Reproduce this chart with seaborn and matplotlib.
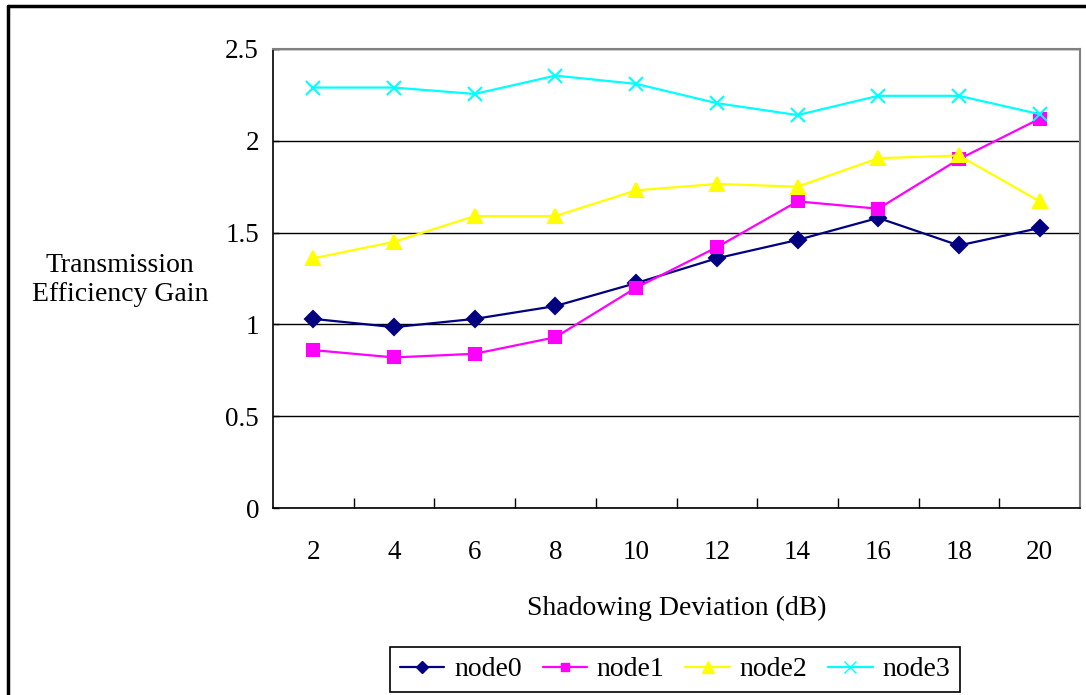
import pandas as pd
import seaborn as sns
import matplotlib.pyplot as plt
from matplotlib.lines import Line2D

# Values
deviation = [2, 4, 6, 8, 10, 12, 14, 16, 18, 20]
node0 = [1.03, 0.985, 1.03, 1.10, 1.225, 1.36, 1.46, 1.58, 1.43, 1.525]
node1 = [0.86, 0.82, 0.84, 0.93, 1.20, 1.42, 1.67, 1.63, 1.90, 2.12]
node2 = [1.36, 1.45, 1.59, 1.59, 1.73, 1.765, 1.75, 1.905, 1.92, 1.67]
node3 = [2.29, 2.29, 2.255, 2.355, 2.31, 2.205, 2.14, 2.245, 2.245, 2.145]
series = ["node0", "node1", "node2", "node3"]

rows = []
for name, vals in zip(series, [node0, node1, node2, node3]):
    for x, v in zip(deviation, vals):
        rows.append({"Deviation": x, "Gain": v, "Node": name})
df = pd.DataFrame(rows)

colors = {"node0": "#000080", "node1": "#FF00FF", "node2": "#FFFF00", "node3": "#00FFFF"}
markers = {"node0": "D", "node1": "s", "node2": "^", "node3": "x"}
msizes = {"node0": 8, "node1": 8, "node2": 10, "node3": 10}

sns.set_theme(style="white")
plt.rcParams['font.family'] = ['Liberation Serif', 'DejaVu Serif']
plt.rcParams['text.color'] = 'black'
plt.rcParams['axes.labelcolor'] = 'black'
plt.rcParams['xtick.color'] = 'black'
plt.rcParams['ytick.color'] = 'black'

fig = plt.figure(figsize=(10.86, 6.95), dpi=100)
ax = fig.add_axes([273 / 1086, 1 - 508 / 695, (1080 - 273) / 1086, (508 - 49) / 695])

for name in series:
    sub = df[df["Node"] == name]
    sns.lineplot(data=sub, x="Deviation", y="Gain", color=colors[name], marker=markers[name],
                 markersize=msizes[name], markeredgecolor=colors[name], markeredgewidth=1.5,
                 linewidth=1.6, ax=ax, label=name, legend=False)

ax.set_xlim(1, 21)
ax.set_ylim(0, 2.5)
ax.set_xticks(deviation)
ax.set_xticklabels([str(d) for d in deviation])
ax.set_xticks(list(range(3, 21, 2)), minor=True)
ax.tick_params(axis="x", which="major", length=0, pad=23, labelsize=19.5)
ax.tick_params(axis="x", which="minor", direction="in", length=7, width=1, color="black", bottom=True)
ax.set_yticks([0, 0.5, 1, 1.5, 2, 2.5])
ax.set_yticklabels(["0", "0.5", "1", "1.5", "2", "2.5"])
ax.tick_params(axis="y", which="major", direction="in", length=4, width=1, color="black", left=True, pad=10, labelsize=19.5)
ax.yaxis.grid(True, color="black", linewidth=1)
ax.set_axisbelow(True)

for side in ["top", "right"]:
    ax.spines[side].set_color("#808080")
    ax.spines[side].set_linewidth(1.5)
for side in ["left", "bottom"]:
    ax.spines[side].set_color("black")
    ax.spines[side].set_linewidth(1.2)

ax.set_xlabel("Shadowing Deviation (dB)", fontsize=20, labelpad=22)
ax.set_ylabel("")
fig.text(120 / 1086, 1 - 280 / 695, "Transmission\nEfficiency Gain", ha="center", va="center",
         fontsize=20, linespacing=1.25)

handles = [Line2D([], [], color=colors[n], marker=markers[n], markersize=msizes[n] * 0.8,
                  markeredgecolor=colors[n], linewidth=1.6) for n in series]
leg = fig.legend(handles, series, loc="lower center", bbox_to_anchor=(675 / 1086, 3 / 695),
                 ncol=4, fontsize=20, frameon=True, fancybox=False, framealpha=1,
                 handlelength=1.6, columnspacing=0.75, handletextpad=0.35,
                 borderpad=0.35, borderaxespad=0)
leg.get_frame().set_edgecolor("black")
leg.get_frame().set_linewidth(1.2)

# outer chart border (left and top visible)
fig.add_artist(Line2D([8 / 1086, 8 / 1086], [0, 1 - 6 / 695], color="black", linewidth=2.5,
                      transform=fig.transFigure))
fig.add_artist(Line2D([8 / 1086, 1], [1 - 6 / 695, 1 - 6 / 695], color="black", linewidth=2.5,
                      transform=fig.transFigure))

plt.savefig("out.png", dpi=100)
